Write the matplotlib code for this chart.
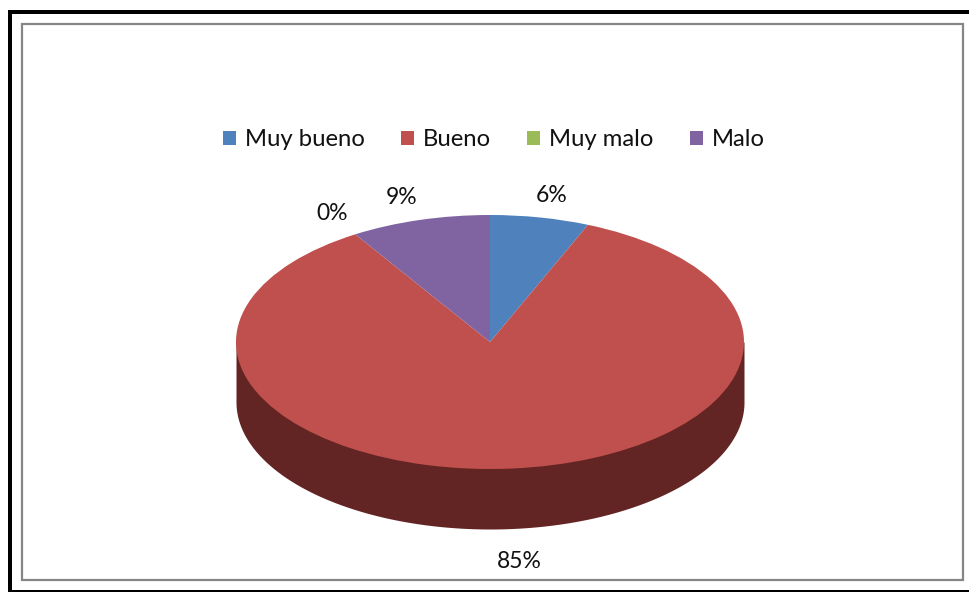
import matplotlib
matplotlib.use("Agg")
import matplotlib.pyplot as plt
import numpy as np
from matplotlib.patches import Patch, Rectangle

W, H = 969, 592

# Slice sizes; labels show them rounded
categories = ["Muy bueno", "Bueno", "Muy malo", "Malo"]
values = [6.3, 84.8, 0, 8.9]
colors = ["#4F81BD", "#C0504D", "#9BBB59", "#8064A2"]
WALL_COLOR = "#632523"

# Pie geometry, in pixels of the output image
CENTER_X, CENTER_Y = 490, 342
RADIUS_X, RADIUS_Y = 254, 127
DEPTH = 60 / RADIUS_Y  # wall height in pie radii

plt.rcParams["font.family"] = ["Lato", "DejaVu Sans"]

fig = plt.figure(figsize=(W / 100, H / 100), dpi=100, facecolor="white")

# Axes scaled so that radius 1 is an ellipse of RADIUS_X by RADIUS_Y pixels
ax = fig.add_axes([0, 0, 1, 1])
ax.pie(values, colors=colors, startangle=90, counterclock=False, radius=1,
       wedgeprops=dict(linewidth=0), normalize=True)
ax.set_aspect("auto")
ax.set_xlim(-CENTER_X / RADIUS_X, (W - CENTER_X) / RADIUS_X)
ax.set_ylim(-(H - CENTER_Y) / RADIUS_Y, CENTER_Y / RADIUS_Y)
ax.axis("off")

# Front wall of the 3D pie, filled up under the top face so no seam shows
theta = np.linspace(np.pi, 2 * np.pi, 300)
ax.fill_between(np.cos(theta), 0, np.sin(theta) - DEPTH,
                color=WALL_COLOR, linewidth=0, zorder=0.5)

# Percentage labels
label_pos = [(552, 195), (519, 561), (332, 213), (402, 197)]
for (px, py), v in zip(label_pos, values):
    ax.text((px - CENTER_X) / RADIUS_X, (CENTER_Y - py) / RADIUS_Y, f"{v:.0f}%",
            ha="center", va="center", fontsize=16.5, color="#111111")

handles = [Patch(facecolor=c, edgecolor="none") for c in colors]
fig.legend(handles, categories, ncols=4, frameon=False, fontsize=17.2,
           loc="center", bbox_to_anchor=(494 / W, 1 - 140 / H),
           handlelength=0.55, handleheight=0.55, handletextpad=0.38,
           columnspacing=1.5, labelcolor="#111111", borderpad=0)

# Outer black frame, running off the right and bottom of the image
black = [(8, 10, 4, H - 10), (8, 10, W - 8, 4), (8, 590, W - 8, 2)]
for x, y, w, h in black:
    fig.add_artist(Rectangle((x / W, 1 - (y + h) / H), w / W, h / H,
                             transform=fig.transFigure, facecolor="black",
                             edgecolor="none"))

# Inner grey chart border
fig.add_artist(Rectangle((22 / W, 1 - 580 / H), 941 / W, 556 / H,
                         transform=fig.transFigure, facecolor="none",
                         edgecolor="#868686", linewidth=1.6))

fig.savefig("out.png", dpi=100)
